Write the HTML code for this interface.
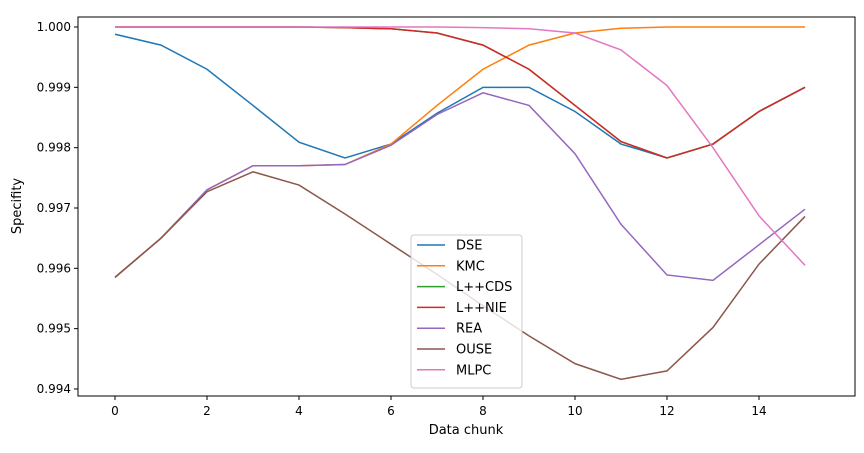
<!DOCTYPE html>
<html><head><meta charset="utf-8"><style>
body{margin:0;background:#fff;}
svg{font-family:"DejaVu Sans","Liberation Sans",sans-serif;}
</style></head><body>
<svg id="chart" width="864" height="448" xmlns="http://www.w3.org/2000/svg">
<rect x="0" y="0" width="864" height="448" fill="#fff"/>
<g id="grid"></g>
<g id="series"></g>
<rect x="78" y="17" width="777" height="379" fill="none" stroke="#000" stroke-width="1"/>
<g id="axes"></g>
<text x="466" y="434" text-anchor="middle" font-size="13">Data chunk</text>
<text x="21" y="206" text-anchor="middle" font-size="13" transform="rotate(-90 21 206)">Specifity</text>
<g id="legend"></g>
</svg>
<script>
const chunks=[0,1,2,3,4,5,6,7,8,9,10,11,12,13,14,15];
const xTicks=[0,2,4,6,8,10,12,14];
const yTicks=[0.994,0.995,0.996,0.997,0.998,0.999,1.000];
const yTickLabels=["0.994","0.995","0.996","0.997","0.998","0.999","1.000"];
const seriesNames=["DSE","KMC","L++CDS","L++NIE","REA","OUSE","MLPC"];
const seriesColors=["#1f77b4","#ff7f0e","#2ca02c","#d62728","#9467bd","#8c564b","#e377c2"];
const dse=[0.99988,0.9997,0.9993,0.9987,0.99809,0.99783,0.99806,0.99857,0.9990,0.9990,0.9986,0.99806,0.99783,0.99806,0.9986,0.9990];
const kmc=[0.99585,0.9965,0.9973,0.9977,0.9977,0.99772,0.99806,0.9987,0.9993,0.9997,0.9999,0.99998,1.0,1.0,1.0,1.0];
const lcds=[1.0,1.0,1.0,1.0,1.0,0.99999,0.99997,0.9999,0.9997,0.9993,0.9987,0.9981,0.99783,0.99806,0.9986,0.9990];
const lnie=[1.0,1.0,1.0,1.0,1.0,0.99999,0.99997,0.9999,0.9997,0.9993,0.9987,0.9981,0.99783,0.99806,0.9986,0.9990];
const rea=[0.99585,0.9965,0.9973,0.9977,0.9977,0.99772,0.99804,0.99855,0.99891,0.9987,0.9979,0.99673,0.99589,0.9958,0.99639,0.99698];
const ouse=[0.99585,0.9965,0.99727,0.9976,0.99738,0.9969,0.9964,0.9959,0.99538,0.99488,0.99442,0.99416,0.9943,0.99502,0.99607,0.99686];
const mlpc=[1.0,1.0,1.0,1.0,1.0,1.0,1.0,1.0,0.99999,0.99997,0.9999,0.99962,0.99903,0.9980,0.99687,0.99605];
const allSeries=[dse,kmc,lcds,lnie,rea,ouse,mlpc];
const NS="http://www.w3.org/2000/svg";
const xs=v=>115+(v-0)*46;
const ys=v=>27+(1.0-v)/0.001*60.33;
function mk(tag,attrs,parent){const e=document.createElementNS(NS,tag);for(const k in attrs)e.setAttribute(k,attrs[k]);parent.appendChild(e);return e;}
const axes=document.getElementById('axes');
xTicks.forEach(t=>{
  const l=mk('line',{x1:xs(t),x2:xs(t),y1:396,y2:400,stroke:'#000'},axes);
  
  
  const tx=mk('text',{x:xs(t),y:415,'text-anchor':'middle','font-size':'12'},axes);
  tx.textContent=String(t);
  
  
});
yTicks.forEach((t,i)=>{
  const l=mk('line',{x1:74,x2:78,y1:ys(t),y2:ys(t),stroke:'#000'},axes);
  
  
  const tx=mk('text',{x:71,y:ys(t)+4,'text-anchor':'end','font-size':'12'},axes);
  tx.textContent=yTickLabels[i];
  
  
});
const sg=document.getElementById('series');
allSeries.forEach((s,i)=>{
  const p=mk('polyline',{points:s.map((v,j)=>xs(chunks[j])+','+ys(v)).join(' '),fill:'none',stroke:seriesColors[i],'stroke-width':'1.5'},sg);
  
  
});
const lg=document.getElementById('legend');
const box=mk('rect',{x:411,y:235,width:111,height:153,rx:3,fill:'#fff','fill-opacity':'0.8',stroke:'#ccc'},lg);


seriesNames.forEach((n,i)=>{
  const y=245+i*20.8;
  const l=mk('line',{x1:417,x2:445,y1:y,y2:y,stroke:seriesColors[i],'stroke-width':'1.5'},lg);
  
  
  const t=mk('text',{x:456,y:y+4.5,'font-size':'13'},lg);
  t.textContent=n;
  
  
});
</script>
</body></html>
